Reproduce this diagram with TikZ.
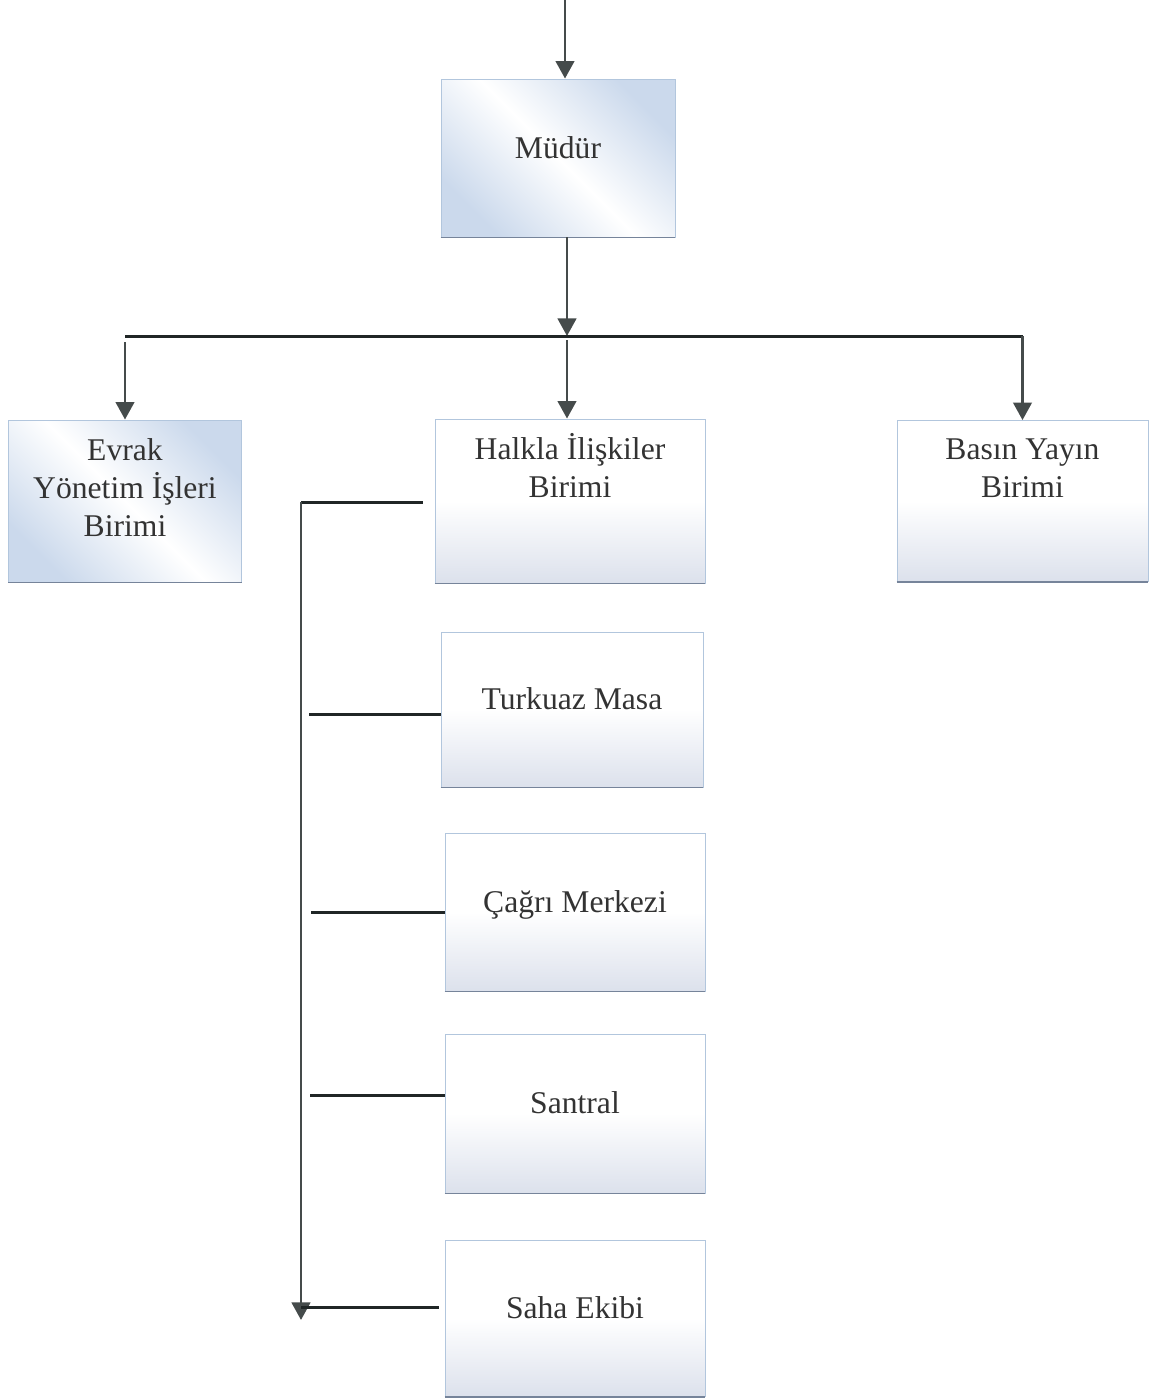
\documentclass[tikz,border=0pt]{standalone}
\usepackage{fontspec}
\setmainfont{Liberation Serif}
\usetikzlibrary{arrows.meta,calc}
\tikzset {>={Triangle[length=10pt,width=10.5pt]}}

\definecolor{linegray}{HTML}{454B4B}
\definecolor{tapgray}{HTML}{202626}
\definecolor{boxblue}{HTML}{CBD9EC}
\definecolor{boxgray}{HTML}{DCE1EC}
\definecolor{boxedge}{HTML}{B2C6DD}
\definecolor{boxbase}{HTML}{76849A}

\tikzset{
  unit/.style={draw=boxedge, line width=0.5pt, inner sep=0pt, align=center,
    text=black!80, font=\fontsize{18}{21.6}\selectfont,
    text height=0.45cm, text depth=0.45cm},
  textbox/.style 2 args={text height=#1, text depth=#2},
  plain/.style={top color=white, bottom color=boxgray, middle color=white},
  diag/.style={top color=boxblue, bottom color=boxblue, middle color=white, shading angle=-45},
  link/.style={draw=linegray, line width=1.7pt},
  tap/.style={draw=tapgray, line width=1.7pt}
}

\begin{document}
\begin{tikzpicture}[x=0.02cm,y=-0.02cm]
\useasboundingbox (0,0) rectangle (1155,1400);

% Boxes
\node[unit,diag,minimum width=4.68cm,minimum height=3.16cm] (mudur) at (558,158) {Müdür};
\node[unit,diag,textbox={1.97cm}{0.57cm},minimum width=4.66cm,minimum height=3.24cm] (evrak) at (125,501) {Evrak\\Yönetim İşleri\\Birimi};
\node[unit,plain,textbox={1.21cm}{1.37cm},minimum width=5.4cm,minimum height=3.28cm] (halkla) at (570,501) {Halkla İlişkiler\\Birimi};
\node[unit,plain,textbox={1.21cm}{1.37cm},minimum width=5.02cm,minimum height=3.22cm] (basin) at (1022.5,501) {Basın Yayın\\Birimi};
\node[unit,plain,minimum width=5.24cm,minimum height=3.1cm] (turkuaz) at (572,709.5) {Turkuaz Masa};
\node[unit,plain,minimum width=5.2cm,minimum height=3.16cm] (cagri) at (575,912) {Çağrı Merkezi};
\node[unit,plain,minimum width=5.2cm,minimum height=3.18cm] (santral) at (575,1113.5) {Santral};
\node[unit,plain,minimum width=5.2cm,minimum height=3.13cm] (saha) at (575,1318.3) {Saha Ekibi};

% Darker base line under each box
\foreach \b in {mudur,evrak,halkla,basin,turkuaz,cagri,santral,saha}
  \draw[boxbase,line width=1pt] (\b.south west) -- (\b.south east);

% Top level
\coordinate (top) at (565,0);
\coordinate (split) at (567,336);
\draw[link,->] (top) -- (top |- mudur.north);
\draw[link,->] (split |- mudur.south) -- (split);

% Branch bar and the three units
\draw[tap] (evrak.north |- split) -- (basin.north |- split);
\draw[link,->] ($(evrak.north |- split)+(0,6)$) -- (evrak.north);
\draw[link,->] ($(split)+(0,4)$) -- (split |- halkla.north);
\draw[link,->] (basin.north |- split) -- (basin.north);

% Rail on the left
\coordinate (railtop) at (301,502);
\coordinate (railbot) at (301,1320);
\coordinate (ttap) at (309,714);
\coordinate (ctap) at (311,912);
\coordinate (stap) at (310,1095);
\coordinate (etap) at (301,1307);
\draw[tap] ($(halkla.west |- railtop)+(-12,0)$) -- (railtop);
\draw[link,->] (railtop) -- (railbot);
\draw[tap] (ttap) -- (ttap -| turkuaz.west);
\draw[tap] (ctap) -- (ctap -| cagri.west);
\draw[tap] (stap) -- (stap -| santral.west);
\draw[tap] (etap) -- ($(etap -| saha.west)+(-6,0)$);

\end{tikzpicture}
\end{document}
